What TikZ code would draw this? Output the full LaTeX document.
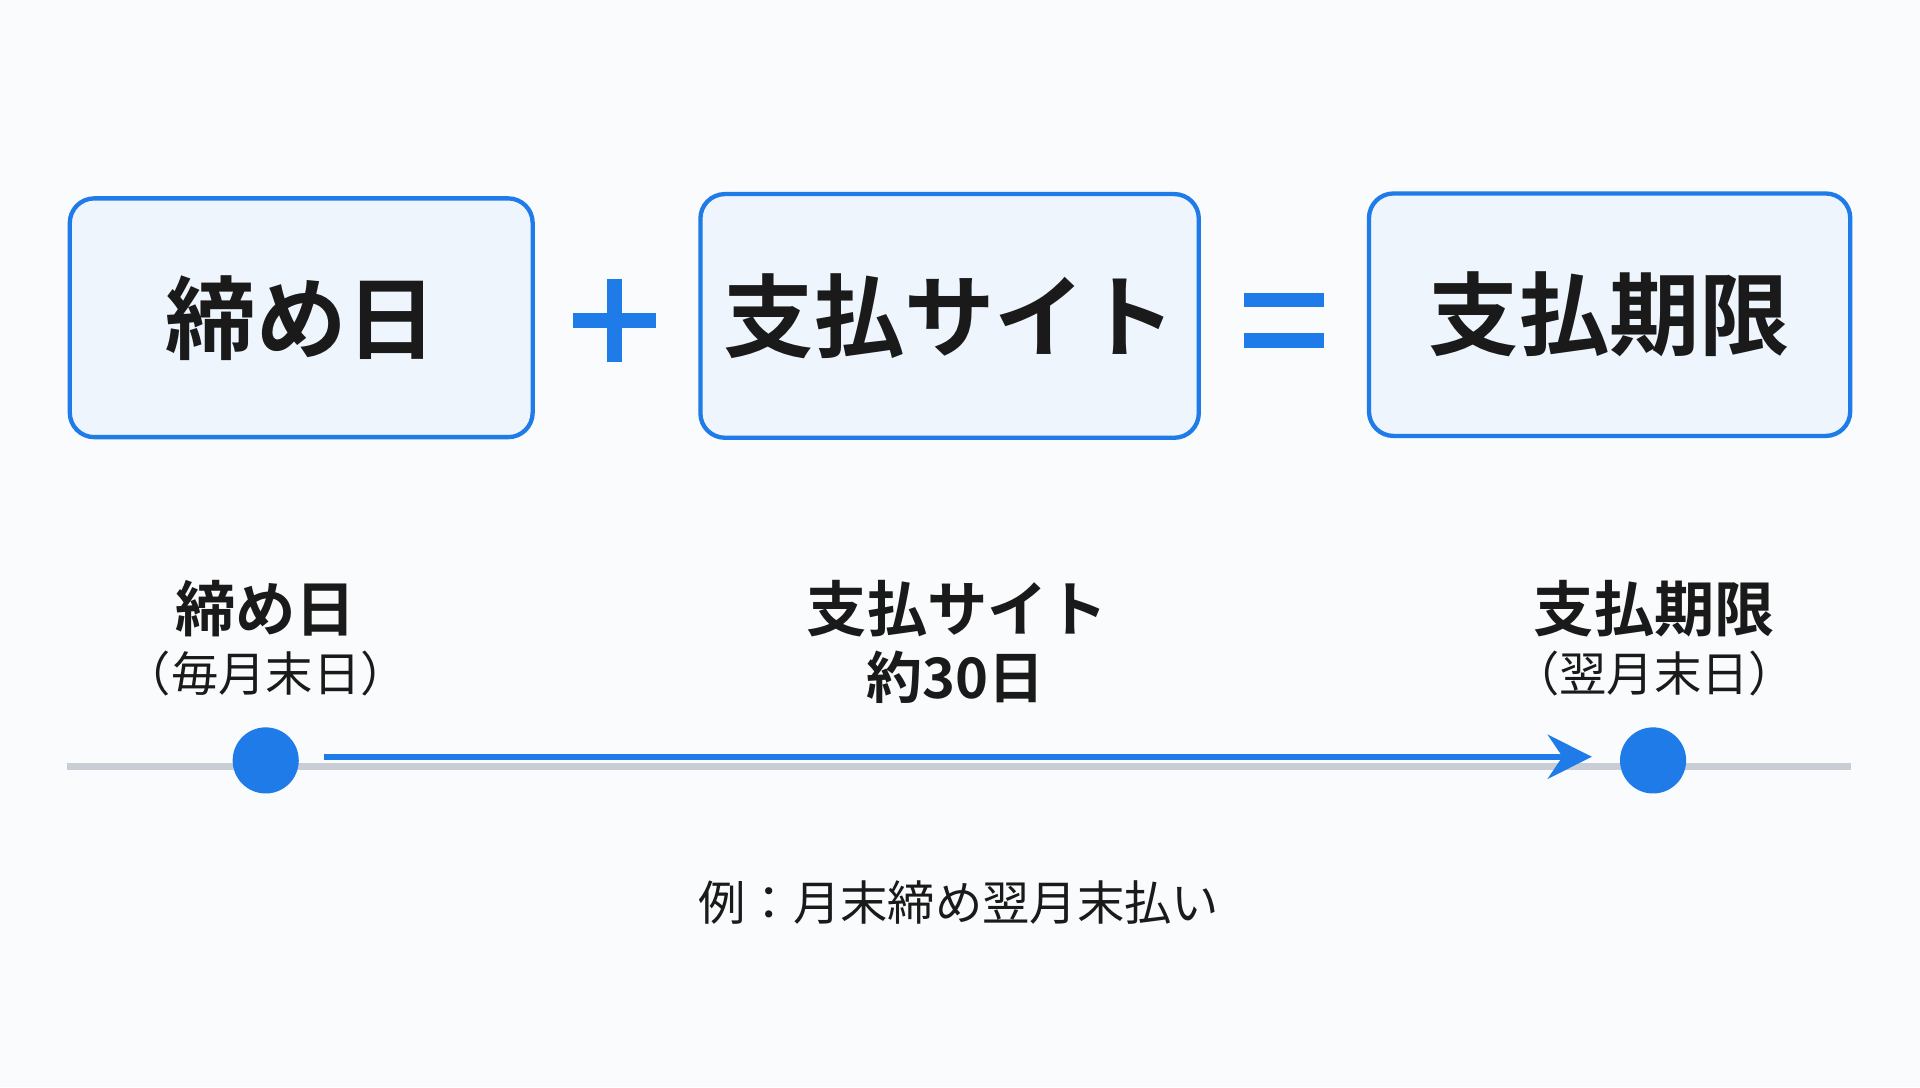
\documentclass[tikz,border=0pt]{standalone}
\usepackage{fontspec}
\newfontfamily\cjk{Noto Sans CJK JP}
\newfontfamily\cjkb{Noto Sans CJK JP Bold}
\usetikzlibrary{arrows.meta}
\definecolor{bl1}{RGB}{30,123,232}
\definecolor{bg1}{RGB}{238,245,253}
\definecolor{bg0}{RGB}{250,251,252}
\definecolor{ln1}{RGB}{200,205,214}
\definecolor{tx1}{RGB}{26,26,26}

\begin{document}
\begin{tikzpicture}[
    x=1cm, y=1cm,
    b/.style={
        rounded corners=0.2cm, draw=bl1, fill=bg1, line width=1pt,
        inner sep=0pt, text=tx1, font=\cjkb\fontsize{21}{25}\selectfont
    },
    t/.style={text=tx1, font=\cjkb\fontsize{14}{17}\selectfont, inner sep=0pt},
    s/.style={text=tx1, font=\cjk\fontsize{11}{13}\selectfont, inner sep=0pt},
    op/.style={line width=0.12cm, draw=bl1},
    dot/.style={circle, fill=bl1, minimum size=0.54cm, inner sep=0pt}
]
\fill [bg0] (0,0) rectangle (15.68,8.88);
\useasboundingbox (0,0) rectangle (15.68,8.88);

% equation row
\node [b, minimum width=3.78cm, minimum height=1.95cm] (close) at (2.46,6.285) {締め日};
\node [b, minimum width=4.07cm, minimum height=1.99cm] (site) at (7.755,6.30) {支払サイト};
\node [b, minimum width=3.93cm, minimum height=1.98cm] (due) at (13.145,6.31) {支払期限};

\draw [op] (4.68,6.26) -- (5.36,6.26);
\draw [op] (5.02,5.92) -- (5.02,6.60);
\draw [op] (10.16,6.43) -- (10.81,6.43);
\draw [op] (10.16,6.10) -- (10.81,6.10);

% timeline
\coordinate (l0) at (0.55,2.62);
\coordinate (l1) at (15.12,2.62);
\draw [ln1, line width=0.05cm] (l0) -- (l1);
\node [dot] (d1) at (2.17,2.67) {};
\node [dot] (d2) at (13.50,2.67) {};
\coordinate (a0) at (2.65,2.70);
\coordinate (a1) at (13.00,2.70);
\draw [bl1, line width=0.05cm, -{Stealth[length=0.36cm, width=0.36cm, inset=0.12cm]}] (a0) -- (a1);

\node [t] (l_close) at (2.17,3.91) {締め日};
\node [s] (l_close2) at (2.17,3.38) {（毎月末日）};
\node [t] (l_site) at (7.82,3.91) {支払サイト};
\node [t, font=\cjkb\fontsize{13}{16}\selectfont] (l_site2) at (7.80,3.35) {約30日};
\node [t] (l_due) at (13.51,3.91) {支払期限};
\node [s] (l_due2) at (13.51,3.38) {（翌月末日）};

\node [s] (ex) at (7.83,1.51) {例：月末締め翌月末払い};
\end{tikzpicture}
\end{document}
